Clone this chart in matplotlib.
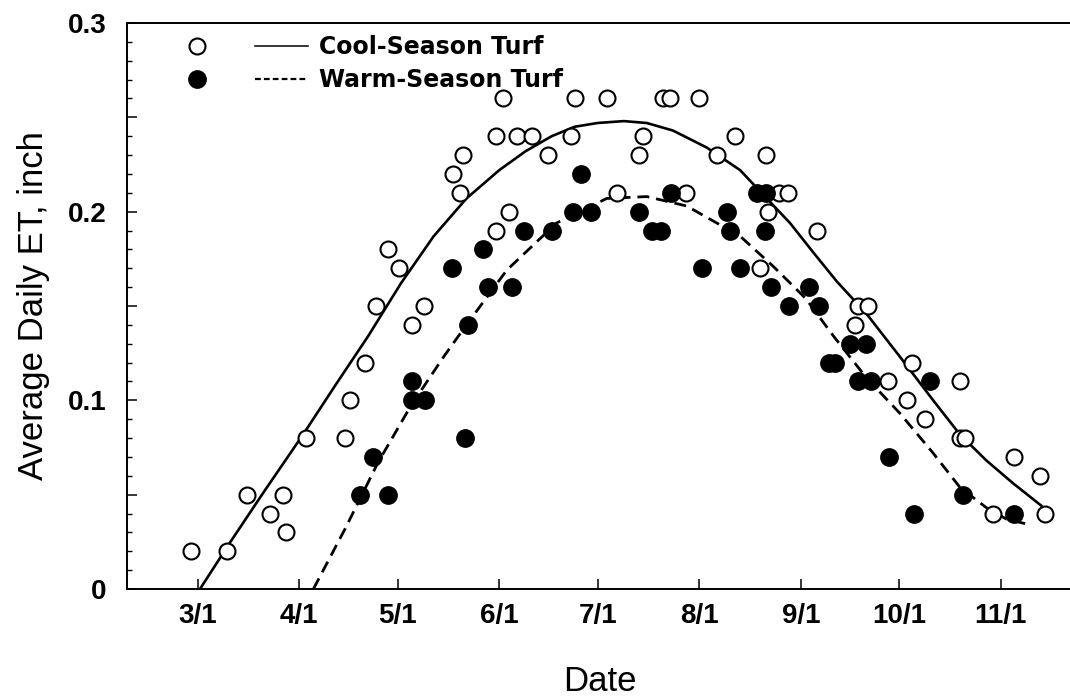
import matplotlib
matplotlib.use("Agg")
import matplotlib.pyplot as plt
from matplotlib.lines import Line2D
from matplotlib.legend_handler import HandlerTuple
from matplotlib.ticker import FixedLocator, FixedFormatter, MultipleLocator

plt.rcParams['font.family'] = ['Liberation Sans', 'DejaVu Sans']

# ---- data (x = day of year) ----
month_days = [60, 91, 121, 152, 182, 213, 244, 274, 305]
month_labels = ['3/1', '4/1', '5/1', '6/1', '7/1', '8/1', '9/1', '10/1', '11/1']

cool_doy = [58, 69, 75, 82, 86, 87, 93, 105, 106.5, 111, 114.5, 118, 121.5, 125.5, 129,
            138, 140, 141, 151, 151, 153, 155, 157.5, 162, 167, 174, 175, 185, 188, 194.5,
            196, 202, 204, 213, 209, 218.5, 224, 233.5, 237.5, 240, 234, 249, 231.5, 261.5,
            264.5, 260.5, 278, 270.5, 276.5, 282, 292.5, 292.5, 294, 309, 317, 302.5, 318.5]
cool_et = [0.02, 0.02, 0.05, 0.04, 0.05, 0.03, 0.08, 0.08, 0.10, 0.12, 0.15, 0.18, 0.17, 0.14, 0.15,
           0.22, 0.21, 0.23, 0.19, 0.24, 0.26, 0.20, 0.24, 0.24, 0.23, 0.24, 0.26, 0.26, 0.21, 0.23,
           0.24, 0.26, 0.26, 0.26, 0.21, 0.23, 0.24, 0.23, 0.21, 0.21, 0.20, 0.19, 0.17, 0.15,
           0.15, 0.14, 0.12, 0.11, 0.10, 0.09, 0.11, 0.08, 0.08, 0.07, 0.06, 0.04, 0.04]

warm_doy = [109.5, 118, 113.5, 125.5, 129.5, 125.5, 141.5, 142.5, 137.5, 147, 148.5, 156, 159.5,
            168, 177, 174.5, 180, 194.5, 198.5, 201.5, 204.5, 214, 221.5, 222.5, 225.5, 230.5,
            233.5, 233, 235, 240.5, 246.5, 249.5, 259, 264, 252.5, 254.5, 261.5, 265.5, 283.5,
            271, 293.5, 278.5, 309]
warm_et = [0.05, 0.05, 0.07, 0.10, 0.10, 0.11, 0.08, 0.14, 0.17, 0.18, 0.16, 0.16, 0.19,
           0.19, 0.22, 0.20, 0.20, 0.20, 0.19, 0.19, 0.21, 0.17, 0.20, 0.19, 0.17, 0.21,
           0.21, 0.19, 0.16, 0.15, 0.16, 0.15, 0.13, 0.13, 0.12, 0.12, 0.11, 0.11, 0.11,
           0.07, 0.05, 0.04, 0.04]

# fitted curves
cool_fit_doy = [60.7, 70, 80, 92.2, 102, 112, 122, 132, 142, 152, 160, 168, 175, 182,
                190, 197, 205, 215.3, 225.5, 232, 240.7, 248, 255, 264, 274.3, 284.4,
                292.5, 300.7, 308.8, 317.5]
cool_fit_et = [0.000, 0.025, 0.051, 0.082, 0.108, 0.134, 0.162, 0.187, 0.207, 0.222, 0.232,
               0.240, 0.245, 0.247, 0.248, 0.247, 0.243, 0.234, 0.222, 0.210, 0.194, 0.178,
               0.163, 0.146, 0.123, 0.100, 0.082, 0.068, 0.056, 0.044]

warm_fit_doy = [95.3, 105, 115, 125, 135, 142, 154.3, 169.5, 184.8, 197, 209.2, 215.3, 225.5,
                235.6, 245.5, 254, 264, 274.3, 284.4, 292.5, 300.7, 306.8, 314]
warm_fit_et = [0.000, 0.032, 0.067, 0.097, 0.123, 0.140, 0.169, 0.194, 0.207, 0.208, 0.203,
               0.197, 0.187, 0.171, 0.154, 0.134, 0.112, 0.093, 0.072, 0.054, 0.043, 0.037,
               0.034]

y_major = [0, 0.05, 0.1, 0.15, 0.2, 0.25, 0.3]
y_labels = ['0', '', '0.1', '', '0.2', '', '0.3']

# ---- figure ----
W, H = 1070, 698
fig = plt.figure(figsize=(W / 100, H / 100), dpi=100)
ax = fig.add_axes([127 / W, (H - 589) / H, 945 / W, 566 / H])

ax.plot(cool_fit_doy, cool_fit_et, color='black', lw=1.9, solid_capstyle='round',
        solid_joinstyle='round', zorder=2)
ax.plot(warm_fit_doy, warm_fit_et, color='black', lw=2.0, linestyle=(0, (4.3, 2.5)), zorder=2)
ax.plot(cool_doy, cool_et, linestyle='none', marker='o', ms=11.5, mfc='white', mec='black',
        mew=1.5, zorder=3)
ax.plot(warm_doy, warm_et, linestyle='none', marker='o', ms=12.5, mfc='black', mec='black',
        mew=1.0, zorder=4)

ax.set_xlim(38.43, 326.75)
ax.set_ylim(0, 0.3)

ax.xaxis.set_major_locator(FixedLocator(month_days))
ax.xaxis.set_major_formatter(FixedFormatter(month_labels))
ax.yaxis.set_major_locator(FixedLocator(y_major))
ax.yaxis.set_major_formatter(FixedFormatter(y_labels))
ax.yaxis.set_minor_locator(MultipleLocator(0.01))

ax.tick_params(axis='both', which='both', direction='in', color='black')
ax.tick_params(axis='x', which='major', length=7, width=1.1, pad=10, labelsize=20)
ax.tick_params(axis='y', which='major', length=7.5, width=1.1, pad=15, labelsize=20)
ax.tick_params(axis='y', which='minor', length=3.5, width=1.0)
ax.tick_params(axis='x', which='minor', bottom=False)
for lab in ax.get_xticklabels() + ax.get_yticklabels():
    lab.set_fontweight('bold')

for s in ['left', 'bottom', 'top']:
    ax.spines[s].set_linewidth(1.4)
ax.spines['right'].set_visible(False)

ax.set_ylabel('Average Daily ET, inch', fontsize=25)
ax.yaxis.set_label_coords(-0.0815, 0.5)
ax.set_xlabel('Date', fontsize=25)
ax.xaxis.set_label_coords(0.5, -0.1345)

# legend: marker, line sample, label
h_cool = (Line2D([], [], linestyle='none', marker='o', ms=11.5, mfc='white', mec='black', mew=1.5),
          Line2D([], [], color='black', lw=1.1))
h_warm = (Line2D([], [], linestyle='none', marker='o', ms=12.5, mfc='black', mec='black', mew=1.0),
          Line2D([], [], color='black', lw=1.6, linestyle=(0, (2.6, 1.4))))
fs = 17
leg = ax.legend([h_cool, h_warm], ['Cool-Season Turf', 'Warm-Season Turf'],
                handler_map={tuple: HandlerTuple(ndivide=None, pad=1.335)},
                loc='upper left', bbox_to_anchor=(170.5 / W, (H - 35) / H),
                bbox_transform=fig.transFigure, frameon=False, borderpad=0,
                borderaxespad=0, handlelength=5.83, handletextpad=0.47,
                labelspacing=0.4, prop={'family': 'DejaVu Sans', 'weight': 'bold', 'size': fs})

fig.savefig('out.png', dpi=100, facecolor='white')
